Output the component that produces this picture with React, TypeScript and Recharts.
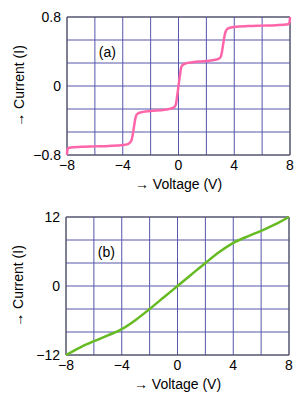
import React from "react";
import {
  LineChart,
  Line,
  XAxis,
  YAxis,
  CartesianGrid,
  ReferenceArea,
  ReferenceDot,
  Label,
} from "recharts";

// panel (a): staircase current
const voltageA = [
  -8, -7.97, -7.85, -7, -6, -5, -4, -3.6, -3.4, -3.3, -3.2, -3.1, -3.0, -2.8, -2, -1, -0.4,
  -0.2, -0.1, 0, 0.1, 0.2, 0.4, 1, 2, 2.8, 3.0, 3.1, 3.2, 3.3, 3.4, 3.6, 4, 5, 6, 7, 7.85,
  7.97, 8,
];
const currentA = [
  -0.8, -0.74, -0.715, -0.705, -0.7, -0.695, -0.685, -0.67, -0.64, -0.58, -0.48, -0.38,
  -0.33, -0.31, -0.29, -0.275, -0.255, -0.22, -0.12, 0, 0.12, 0.22, 0.255, 0.275, 0.29,
  0.31, 0.33, 0.38, 0.48, 0.58, 0.64, 0.67, 0.685, 0.695, 0.7, 0.705, 0.715, 0.74, 0.8,
];

// panel (b): smooth S-curve
const voltageB = [-8, -7, -6, -5, -4, -3, -2, -1, 0, 1, 2, 3, 4, 5, 6, 7, 8];
const currentB = [
  -12, -10.7, -9.6, -8.6, -7.5, -5.9, -4.0, -2.0, 0, 2.0, 4.0, 5.9, 7.5, 8.6, 9.6, 10.7, 12,
];

const xTicks = [-8, -6, -4, -2, 0, 2, 4, 6, 8];
const xLabels = [-8, -4, 0, 4, 8];
const yTicksA = [-0.8, -0.8 * 2 / 3, -0.8 / 3, 0, 0.8 / 3, 0.8 * 2 / 3, 0.8];
const yTicksB = [-12, -8, -4, 0, 4, 8, 12];

const dataA = voltageA.map((v, i) => ({ v, i: currentA[i] }));
const dataB = voltageB.map((v, i) => ({ v, i: currentB[i] }));

const fontFamily = "'Liberation Sans', Arial, sans-serif";
const gridColor = "#5656ac";
const fmt = (n: number) => (n < 0 ? "\u2212" + Math.abs(n) : String(n));

interface PanelProps {
  data: { v: number; i: number }[];
  yTicks: number[];
  yLabels: number[];
  yMax: number;
  color: string;
  tag: string;
  tagY: number;
  top: number;
  left: number;
}

const Panel: React.FC<PanelProps> = ({ data, yTicks, yLabels, yMax, color, tag, tagY, top, left }) => (
  <div style={{ position: "absolute", top, left }}>
    <LineChart width={308} height={200} data={data} margin={{ top: 17, right: 18, left: 0, bottom: 0 }}>
      <CartesianGrid stroke={gridColor} strokeWidth={1} />
      <XAxis
        dataKey="v"
        type="number"
        domain={[-8, 8]}
        ticks={xTicks}
        tickFormatter={(t: number) => (xLabels.includes(t) ? fmt(t) : "")}
        tickLine={false}
        axisLine={false}
        tickSize={0}
        tickMargin={5}
        height={45}
        tick={{ fill: "#000", fontSize: 14, fontFamily }}
      >
        <Label
          value={"\u2192\u00a0Voltage\u00a0(V)"}
          position="insideBottom"
          offset={11}
          style={{ fill: "#000", fontSize: 14, fontFamily }}
        />
      </XAxis>
      <YAxis
        type="number"
        domain={[-yMax, yMax]}
        ticks={yTicks}
        tickFormatter={(t: number) => {
          const hit = yLabels.find((l) => Math.abs(l - t) < 1e-6);
          return hit === undefined ? "" : fmt(hit);
        }}
        tickLine={false}
        axisLine={false}
        tickSize={0}
        tickMargin={6}
        width={67}
        tick={{ fill: "#000", fontSize: 14, fontFamily }}
      >
        <Label
          value={"\u2192\u00a0Current\u00a0(I)"}
          angle={-90}
          position="insideLeft"
          offset={19}
          textAnchor="middle"
          style={{ fill: "#000", fontSize: 14, fontFamily, textAnchor: "middle" }}
        />
      </YAxis>
      <ReferenceArea x1={-8} x2={8} y1={-yMax} y2={yMax} fill="none" stroke="#555" strokeWidth={1} />
      <ReferenceDot
        x={-5.1}
        y={tagY}
        r={0}
        fill="none"
        stroke="none"
        label={{ value: tag, position: "center", fill: "#000", fontSize: 14, fontFamily }}
      />
      <Line
        type="monotone"
        dataKey="i"
        stroke={color}
        strokeWidth={2.5}
        dot={false}
        isAnimationActive={false}
      />
    </LineChart>
  </div>
);

export default function App() {
  return (
    <div style={{ position: "absolute", top: 0, left: 0, width: 308, height: 400, background: "#fff" }}>
      <Panel
        data={dataA}
        yTicks={yTicksA}
        yLabels={[-0.8, 0, 0.8]}
        yMax={0.8}
        color="#ff66aa"
        tag="(a)"
        tagY={0.39}
        top={0}
        left={0}
      />
      <Panel
        data={dataB}
        yTicks={yTicksB}
        yLabels={[-12, 0, 12]}
        yMax={12}
        color="#66bb22"
        tag="(b)"
        tagY={5.9}
        top={200}
        left={-1}
      />
    </div>
  );
}
